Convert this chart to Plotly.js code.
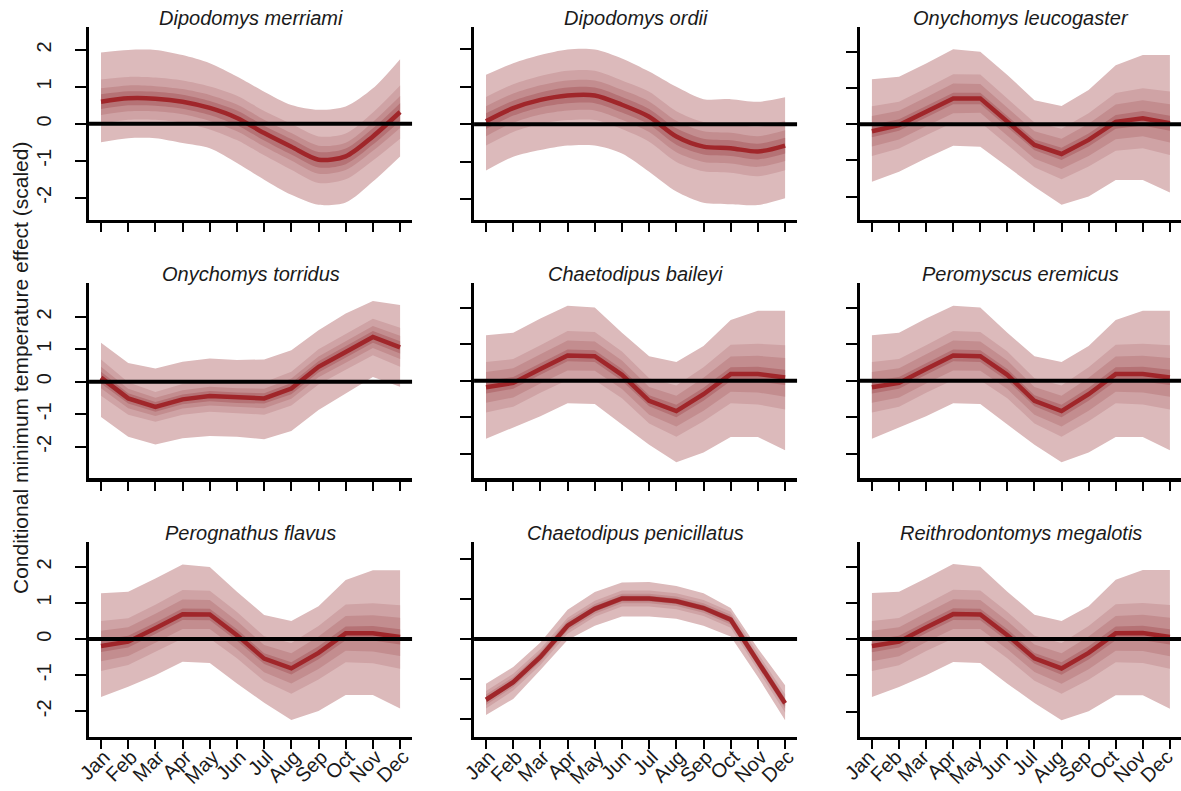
<!DOCTYPE html>
<html>
<head>
<meta charset="utf-8">
<script src="https://cdn.plot.ly/plotly-3.0.1.min.js"></script>
<style>html,body{margin:0;padding:0;background:#fff;}#chart{width:1181px;height:791px;}</style>
</head>
<body>
<div id="chart"></div>
<script>
// ---------- data ----------
const monthNames = ['Jan','Feb','Mar','Apr','May','Jun','Jul','Aug','Sep','Oct','Nov','Dec'];
const monthIdx = [1,2,3,4,5,6,7,8,9,10,11,12];
const yTickVals = [-2,-1,0,1,2];
const yTickText = ['-2','-1','0','1','2'];
const speciesNames = ['Dipodomys merriami','Dipodomys ordii','Onychomys leucogaster',
  'Onychomys torridus','Chaetodipus baileyi','Peromyscus eremicus',
  'Perognathus flavus','Chaetodipus penicillatus','Reithrodontomys megalotis'];

// Dipodomys merriami
const dmerMean = [0.60,0.69,0.68,0.60,0.43,0.16,-0.25,-0.62,-0.97,-0.88,-0.34,0.32];
const dmerHi   = [1.93,2.00,2.00,1.86,1.64,1.28,0.87,0.51,0.38,0.47,0.96,1.75];
const dmerLo   = [-0.50,-0.39,-0.39,-0.52,-0.66,-1.06,-1.51,-1.92,-2.19,-2.13,-1.56,-0.88];
const dmerW2   = [0.60,0.58,0.57,0.57,0.58,0.60,0.60,0.62,0.63,0.62,0.65,0.72];
const dmerW3   = [0.36,0.35,0.34,0.34,0.35,0.36,0.36,0.37,0.38,0.37,0.39,0.43];
const dmerW4   = [0.20,0.19,0.19,0.19,0.19,0.20,0.20,0.21,0.21,0.21,0.22,0.24];
// Dipodomys ordii
const dordMean = [0.08,0.43,0.65,0.77,0.77,0.52,0.20,-0.33,-0.60,-0.64,-0.73,-0.57];
const dordHi   = [1.32,1.63,1.85,2.00,2.00,1.76,1.41,1.00,0.67,0.67,0.60,0.72];
const dordLo   = [-1.24,-0.87,-0.69,-0.57,-0.57,-0.78,-1.27,-1.80,-2.10,-2.14,-2.16,-1.98];
const dordW2   = [0.65,0.64,0.64,0.66,0.66,0.65,0.67,0.68,0.66,0.66,0.66,0.66];
const dordW3   = [0.40,0.39,0.39,0.40,0.40,0.40,0.41,0.42,0.41,0.41,0.41,0.41];
const dordW4   = [0.21,0.20,0.20,0.21,0.21,0.21,0.21,0.22,0.21,0.21,0.21,0.21];
// Onychomys leucogaster
const oleuMean = [-0.19,-0.02,0.35,0.72,0.72,0.07,-0.57,-0.82,-0.43,0.07,0.17,0.03];
const oleuHi   = [1.25,1.32,1.69,2.08,2.01,1.37,0.67,0.51,0.95,1.64,1.92,1.92];
const oleuLo   = [-1.59,-1.31,-0.94,-0.59,-0.62,-1.17,-1.73,-2.23,-2.00,-1.54,-1.54,-1.89];
const oleuW2   = [0.69,0.65,0.65,0.67,0.66,0.64,0.62,0.70,0.74,0.80,0.83,0.88];
const oleuW3   = [0.42,0.40,0.40,0.41,0.40,0.39,0.38,0.42,0.45,0.48,0.50,0.53];
const oleuW4   = [0.17,0.16,0.16,0.16,0.16,0.16,0.15,0.17,0.18,0.19,0.20,0.21];
// Onychomys torridus
const otorMean = [0.13,-0.51,-0.77,-0.54,-0.44,-0.49,-0.51,-0.21,0.46,0.92,1.38,1.06];
const otorHi   = [1.20,0.58,0.41,0.62,0.72,0.67,0.69,0.97,1.59,2.10,2.49,2.36];
const otorLo   = [-1.08,-1.69,-1.93,-1.74,-1.67,-1.69,-1.77,-1.51,-0.87,-0.36,0.15,-0.15];
const otorW2   = [0.56,0.50,0.46,0.47,0.48,0.48,0.50,0.52,0.54,0.55,0.56,0.60];
const otorW3   = [0.33,0.30,0.28,0.28,0.29,0.29,0.30,0.31,0.32,0.33,0.34,0.36];
const otorW4   = [0.18,0.16,0.15,0.15,0.16,0.16,0.16,0.17,0.17,0.18,0.18,0.19];
// Chaetodipus baileyi
const cbaiMean = [-0.18,-0.06,0.32,0.69,0.67,0.16,-0.55,-0.83,-0.37,0.18,0.18,0.09];
const cbaiHi   = [1.24,1.31,1.70,2.05,2.00,1.31,0.67,0.51,0.95,1.66,1.91,1.91];
const cbaiLo   = [-1.59,-1.29,-0.97,-0.62,-0.64,-1.20,-1.75,-2.23,-1.96,-1.54,-1.54,-1.90];
const cbaiW2   = [0.69,0.65,0.65,0.67,0.66,0.64,0.62,0.70,0.74,0.80,0.83,0.88];
const cbaiW3   = [0.42,0.40,0.40,0.41,0.40,0.39,0.38,0.42,0.45,0.48,0.50,0.53];
const cbaiW4   = [0.17,0.16,0.16,0.16,0.16,0.16,0.15,0.17,0.18,0.19,0.20,0.21];
// Peromyscus eremicus
const perMean  = [-0.18,-0.06,0.32,0.69,0.67,0.16,-0.55,-0.83,-0.37,0.18,0.18,0.09];
const perHi    = [1.24,1.31,1.70,2.05,2.00,1.31,0.67,0.51,0.95,1.66,1.91,1.91];
const perLo    = [-1.59,-1.29,-0.97,-0.62,-0.64,-1.20,-1.75,-2.23,-1.96,-1.54,-1.54,-1.90];
const perW2    = [0.69,0.65,0.65,0.67,0.66,0.64,0.62,0.70,0.74,0.80,0.83,0.88];
const perW3    = [0.42,0.40,0.40,0.41,0.40,0.39,0.38,0.42,0.45,0.48,0.50,0.53];
const perW4    = [0.17,0.16,0.16,0.16,0.16,0.16,0.15,0.17,0.18,0.19,0.20,0.21];
// Perognathus flavus
const pflaMean = [-0.19,-0.07,0.30,0.69,0.68,0.11,-0.54,-0.81,-0.38,0.16,0.16,0.06];
const pflaHi   = [1.27,1.31,1.68,2.07,2.00,1.31,0.67,0.50,0.91,1.64,1.91,1.91];
const pflaLo   = [-1.60,-1.32,-1.00,-0.63,-0.66,-1.23,-1.76,-2.24,-1.99,-1.55,-1.55,-1.92];
const pflaW2   = [0.69,0.65,0.65,0.67,0.66,0.64,0.62,0.70,0.74,0.80,0.83,0.88];
const pflaW3   = [0.42,0.40,0.40,0.41,0.40,0.39,0.38,0.42,0.45,0.48,0.50,0.53];
const pflaW4   = [0.17,0.16,0.16,0.16,0.16,0.16,0.15,0.17,0.18,0.19,0.20,0.21];
// Chaetodipus penicillatus
const cpenMean = [-1.52,-1.08,-0.45,0.33,0.75,1.01,1.01,0.94,0.77,0.48,-0.57,-1.61];
const cpenHi   = [-1.12,-0.70,-0.09,0.73,1.17,1.41,1.42,1.32,1.14,0.77,-0.24,-1.16];
const cpenLo   = [-1.90,-1.50,-0.78,-0.03,0.33,0.56,0.56,0.50,0.33,0.06,-0.95,-2.03];
const cpenW2   = [0.22,0.21,0.20,0.20,0.20,0.20,0.20,0.20,0.20,0.20,0.21,0.23];
const cpenW3   = [0.13,0.12,0.12,0.12,0.12,0.12,0.12,0.12,0.12,0.12,0.12,0.13];
const cpenW4   = [0.07,0.07,0.07,0.07,0.07,0.07,0.07,0.07,0.07,0.07,0.07,0.07];
// Reithrodontomys megalotis
const rmegMean = [-0.19,-0.07,0.32,0.69,0.68,0.11,-0.53,-0.81,-0.38,0.16,0.17,0.06];
const rmegHi   = [1.27,1.31,1.68,2.07,2.00,1.31,0.67,0.50,0.91,1.64,1.91,1.91];
const rmegLo   = [-1.60,-1.32,-1.00,-0.63,-0.66,-1.23,-1.76,-2.24,-1.99,-1.55,-1.55,-1.92];
const rmegW2   = [0.69,0.65,0.65,0.67,0.66,0.64,0.62,0.70,0.74,0.80,0.83,0.88];
const rmegW3   = [0.42,0.40,0.40,0.41,0.40,0.39,0.38,0.42,0.45,0.48,0.50,0.53];
const rmegW4   = [0.17,0.16,0.16,0.16,0.16,0.16,0.15,0.17,0.18,0.19,0.20,0.21];

// ---------- assembling ----------
const panels = [
  [dmerMean,dmerHi,dmerLo,dmerW2,dmerW3,dmerW4],
  [dordMean,dordHi,dordLo,dordW2,dordW3,dordW4],
  [oleuMean,oleuHi,oleuLo,oleuW2,oleuW3,oleuW4],
  [otorMean,otorHi,otorLo,otorW2,otorW3,otorW4],
  [cbaiMean,cbaiHi,cbaiLo,cbaiW2,cbaiW3,cbaiW4],
  [perMean,perHi,perLo,perW2,perW3,perW4],
  [pflaMean,pflaHi,pflaLo,pflaW2,pflaW3,pflaW4],
  [cpenMean,cpenHi,cpenLo,cpenW2,cpenW3,cpenW4],
  [rmegMean,rmegHi,rmegLo,rmegW2,rmegW3,rmegW4]
];

// layout / style
const colDomains = [[0.0754,0.3489],[0.4014,0.6749],[0.7282,1.0]];
const rowDomains = [[0.7219,0.9659],[0.3957,0.6422],[0.0683,0.3148]];
const xRanges = [[0.56,12.44],[0.56,12.44],[0.56,12.41]];
const yRanges = [[-2.6,2.62],[-2.56,2.6],[-2.65,2.7],[-2.96,3.04],[-2.66,2.67],[-2.66,2.67],[-2.71,2.69],[-2.45,2.42],[-2.7,2.68]];
const curveShapes = ['spline','spline','linear','linear','linear','linear','linear','linear','linear'];
const labelShifts = [3,3,-3];

const bandColors = ['#dcbabb','#cfa3a5','#c38d8f','#b57275'];
const lineColor = '#a0262a';
const FONT = 'Liberation Sans, Arial, sans-serif';

const traces = [];
const layout = {
  width:1181, height:791,
  margin:{l:0,r:0,t:0,b:0},
  paper_bgcolor:'#ffffff', plot_bgcolor:'rgba(0,0,0,0)',
  showlegend:false, hovermode:false,
  font:{family:FONT, size:20, color:'#1a1a1a'},
  annotations:[], shapes:[]
};

panels.forEach((p, i) => {
  const [mean, hi, lo, w2, w3, w4] = p;
  const n = i + 1;
  const xa = n === 1 ? 'x' : 'x' + n;
  const ya = n === 1 ? 'y' : 'y' + n;
  const row = Math.floor(i / 3), col = i % 3;
  const shp = curveShapes[i];
  const bands = [
    [hi, lo],
    [mean.map((m,k)=>m+w2[k]), mean.map((m,k)=>m-w2[k])],
    [mean.map((m,k)=>m+w3[k]), mean.map((m,k)=>m-w3[k])],
    [mean.map((m,k)=>m+w4[k]), mean.map((m,k)=>m-w4[k])]
  ];
  bands.forEach((b, j) => {
    traces.push({
      type:'scatter', mode:'lines', xaxis:xa, yaxis:ya,
      x: monthIdx, y: b[1],
      line:{width:0, color:bandColors[j], shape:shp, smoothing:0.8}, hoverinfo:'skip'
    });
    traces.push({
      type:'scatter', mode:'lines', xaxis:xa, yaxis:ya,
      x: monthIdx, y: b[0],
      fill:'tonexty', fillcolor:bandColors[j],
      line:{width:0, color:bandColors[j], shape:shp, smoothing:0.8}, hoverinfo:'skip'
    });
  });
  traces.push({
    type:'scatter', mode:'lines', xaxis:xa, yaxis:ya,
    x: monthIdx, y: mean,
    line:{width:4.5, color:lineColor, shape:shp, smoothing:0.8}, hoverinfo:'skip'
  });

  const xKey = n === 1 ? 'xaxis' : 'xaxis' + n;
  const yKey = n === 1 ? 'yaxis' : 'yaxis' + n;
  layout[xKey] = {
    domain: colDomains[col], anchor: ya, range: xRanges[col],
    showgrid:false, zeroline:false, showline:true, linecolor:'#000', linewidth:3.5,
    ticks:'outside', ticklen:9, tickwidth:2, tickcolor:'#000',
    tickmode:'array', tickvals: monthIdx, ticktext: monthNames,
    showticklabels: row === 2, tickangle:-45, ticklabelshift:labelShifts[col], ticklabelstandoff:-12,
    ticklabeloverflow:'allow',
    tickfont:{family:FONT, size:20, color:'#1a1a1a'}, fixedrange:true
  };
  layout[yKey] = {
    domain: rowDomains[row], anchor: xa, range: yRanges[i],
    showgrid:false, zeroline:false, showline:true, linecolor:'#000', linewidth:3.5,
    ticks:'outside', ticklen:11, tickwidth:2, tickcolor:'#000',
    tickmode:'array', tickvals: yTickVals, ticktext: yTickText,
    showticklabels: col === 0, tickangle:-90, ticklabelstandoff:16,
    tickfont:{family:FONT, size:20, color:'#1a1a1a'}, fixedrange:true
  };
  layout.shapes.push({
    type:'line', xref: xa + ' domain', yref: ya, x0:0, x1:1, y0:0, y1:0,
    line:{color:'#000', width:4}, layer:'above'
  });
  layout.annotations.push({
    xref: xa + ' domain', yref: ya + ' domain', x:0.5, y:1,
    xanchor:'center', yanchor:'bottom', yshift:-4, showarrow:false,
    text:'<i>' + speciesNames[i] + '</i>',
    font:{family:FONT, size:20, color:'#1a1a1a'}
  });
});

layout.annotations.push({
  xref:'paper', yref:'paper', x:20/1181, y:1-368/791,
  xanchor:'center', yanchor:'middle', textangle:-90, showarrow:false,
  text:'Conditional minimum temperature effect (scaled)',
  font:{family:FONT, size:21, color:'#1a1a1a'}
});

Plotly.newPlot('chart', traces, layout, {staticPlot:true, displayModeBar:false});
</script>
</body>
</html>
